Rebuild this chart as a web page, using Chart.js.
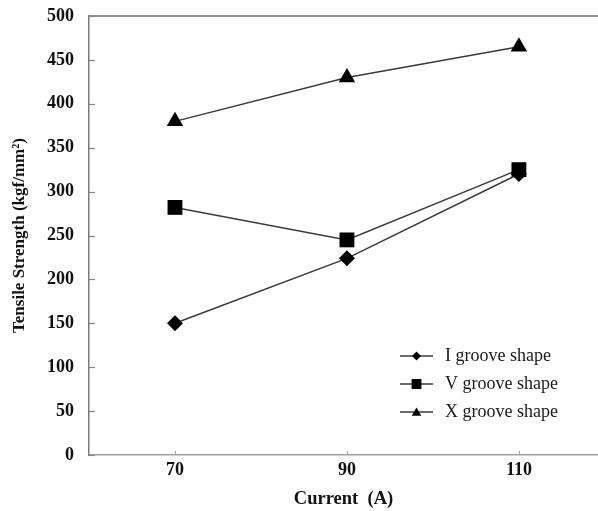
<!DOCTYPE html>
<html>
<head>
<meta charset="utf-8">
<script src="https://cdn.jsdelivr.net/npm/chart.js@4/dist/chart.umd.min.js"></script>
<style>
  html, body { margin: 0; padding: 0; background: #ffffff; overflow: hidden; }
  #wrap { width: 598px; height: 511px; }
</style>
</head>
<body>
<div id="wrap"><canvas id="c" width="598" height="511"></canvas></div>
<script>
// ---- data ----
const categories = [70, 90, 110];              // Current (A)
const seriesNames = ['I groove shape', 'V groove shape', 'X groove shape'];
const seriesI = [150, 224, 320];
const seriesV = [282, 245, 325];
const seriesX = [380, 430, 465];
const yTickValues = [0, 50, 100, 150, 200, 250, 300, 350, 400, 450, 500];
const xTitle = 'Current  (A)';
const yTitle = 'Tensile Strength (kgf/mm\u00B2)';

const pointStyles = ['rectRot', 'rect', 'triangle'];
const pointRadii = [8, 10.5, 9.5];
const legendRadii = [4.5, 7, 5.5];
const allSeries = [seriesI, seriesV, seriesX];

const datasets = allSeries.map((vals, i) => ({
  label: seriesNames[i],
  data: categories.map((c, j) => ({ x: c, y: vals[j] })),
  borderColor: '#3a3a3a',
  borderWidth: 1.5,
  backgroundColor: '#000000',
  pointBackgroundColor: '#000000',
  pointBorderColor: '#000000',
  pointBorderWidth: 0,
  pointStyle: pointStyles[i],
  pointRadius: pointRadii[i],
  pointHoverRadius: pointRadii[i],
  tension: 0,
  clip: false
}));

const framePlugin = {
  id: 'frame',
  afterDraw(chart) {
    const ctx = chart.ctx;
    const a = chart.chartArea;
    const xs = chart.scales.x, ys = chart.scales.y;
    ctx.save();
    // top frame line
    ctx.strokeStyle = '#707070';
    ctx.lineWidth = 1.5;
    ctx.beginPath();
    ctx.moveTo(a.left, a.top);
    ctx.lineTo(chart.width, a.top);
    ctx.stroke();
    // inward tick marks
    ctx.strokeStyle = '#8a8a8a';
    ctx.lineWidth = 1.2;
    ys.ticks.forEach(t => {
      const y = Math.round(ys.getPixelForValue(t.value)) + 0.5;
      ctx.beginPath();
      ctx.moveTo(a.left, y);
      ctx.lineTo(a.left + 6, y);
      ctx.stroke();
    });
    ctx.strokeStyle = '#a8a8a8';
    xs.ticks.forEach(t => {
      const x = Math.round(xs.getPixelForValue(t.value)) + 0.5;
      ctx.beginPath();
      ctx.moveTo(x, a.bottom);
      ctx.lineTo(x, a.bottom - 4);
      ctx.stroke();
    });
    // legend (inside plot area)
    const lx0 = 400, lx1 = 433, mx = 416.5, tx = 445;
    const rows = [356, 384, 412];
    ctx.font = '18px "Liberation Serif", "Times New Roman", serif';
    ctx.textBaseline = 'middle';
    ctx.textAlign = 'left';
    chart.data.datasets.forEach((ds, i) => {
      const y = rows[i];
      ctx.strokeStyle = '#3a3a3a';
      ctx.lineWidth = 1.5;
      ctx.beginPath();
      ctx.moveTo(lx0, y);
      ctx.lineTo(lx1, y);
      ctx.stroke();
      ctx.fillStyle = '#000000';
      ctx.strokeStyle = '#000000';
      Chart.helpers.drawPoint(ctx, {
        pointStyle: ds.pointStyle,
        radius: legendRadii[i],
        rotation: 0,
        borderWidth: 0
      }, mx, i === 2 ? y + 1 : y);
      ctx.fillStyle = '#1a1a1a';
      ctx.fillText(ds.label, tx, y);
    });
    ctx.restore();
  }
};

const tickFont = { family: '"Liberation Serif", "Times New Roman", serif', size: 18, weight: 'bold' };

new Chart(document.getElementById('c'), {
  type: 'line',
  data: { datasets },
  options: {
    responsive: false,
    animation: false,
    events: [],
    layout: { autoPadding: false, padding: { top: 16, right: 0, left: 0, bottom: 0 } },
    plugins: { legend: { display: false }, tooltip: { enabled: false } },
    scales: {
      x: {
        type: 'linear',
        min: 60,
        max: 119.2,
        afterBuildTicks(s) { s.ticks = categories.map(v => ({ value: v })); },
        afterFit(s) { s.height = 56; s.paddingLeft = 0; s.paddingRight = 0; },
        grid: { display: true, drawOnChartArea: false, drawTicks: false },
        border: { display: true, color: '#a0a0a0', width: 1.5 },
        ticks: { color: '#111111', font: tickFont, padding: 5, maxRotation: 0 },
        title: {
          display: true, text: xTitle, color: '#111111',
          font: { family: '"Liberation Serif", "Times New Roman", serif', size: 18.5, weight: 'bold' },
          padding: { top: 0, bottom: 1 }
        }
      },
      y: {
        min: 0,
        max: 500,
        afterBuildTicks(s) { s.ticks = yTickValues.map(v => ({ value: v })); },
        afterFit(s) { s.width = 89; s.paddingTop = 0; s.paddingBottom = 0; },
        grid: { display: true, drawOnChartArea: false, drawTicks: false },
        border: { display: true, color: '#7a7a7a', width: 1.5 },
        ticks: { color: '#111111', font: tickFont, padding: 15 },
        title: {
          display: true, text: yTitle, color: '#111111',
          font: { family: '"Liberation Serif", "Times New Roman", serif', size: 17, weight: 'bold' },
          padding: { top: 9, bottom: 0 }
        }
      }
    }
  },
  plugins: [framePlugin]
});
</script>
</body>
</html>
